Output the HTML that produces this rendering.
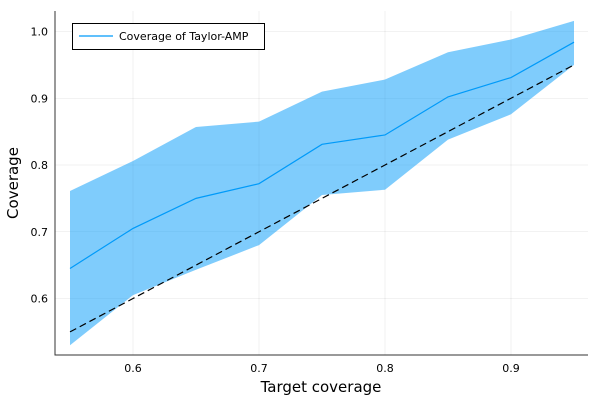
<!DOCTYPE html>
<html><head><meta charset="utf-8"><style>
body{margin:0;background:#fff;}
text{font-family:"DejaVu Sans","Liberation Sans",sans-serif;}
</style></head><body>
<svg id="chart" width="600" height="400"></svg>
<script>
const xs=[0.55,0.6,0.65,0.7,0.75,0.8,0.85,0.9,0.95];
const meanCov=[0.645,0.705,0.75,0.772,0.831,0.845,0.902,0.931,0.984];
const upperCov=[0.761,0.806,0.857,0.865,0.91,0.928,0.969,0.988,1.016];
const lowerCov=[0.53,0.605,0.643,0.68,0.755,0.763,0.838,0.876,0.95];
const xTicks=[0.6,0.7,0.8,0.9];
const yTicks=[0.6,0.7,0.8,0.9,1.0];
const NS='http://www.w3.org/2000/svg';
const svg=document.getElementById('chart');
const X=v=>133+(v-0.6)*1260;
const Y=v=>298.5-(v-0.6)*667.5;
function mk(t,a,p){const e=document.createElementNS(NS,t);for(const k in a)e.setAttribute(k,a[k]);(p||svg).appendChild(e);return e;}
xTicks.forEach(t=>{const g=mk('line',{x1:X(t),x2:X(t),y1:11,y2:355,stroke:'#000','stroke-opacity':0.1,'stroke-width':0.6});


const l=mk('text',{x:X(t),y:372,'text-anchor':'middle','font-size':11,fill:'#000'});l.textContent=t.toFixed(1);

});
yTicks.forEach(t=>{const g=mk('line',{x1:55,x2:588,y1:Y(t),y2:Y(t),stroke:'#000','stroke-opacity':0.1,'stroke-width':0.6});


const l=mk('text',{x:48,y:Y(t)+4,'text-anchor':'end','font-size':11,fill:'#000'});l.textContent=t.toFixed(1);

});
let d=xs.map((x,i)=>(i?'L':'M')+X(x)+','+Y(upperCov[i])).join('');
for(let i=xs.length-1;i>=0;i--)d+='L'+X(xs[i])+','+Y(lowerCov[i]);
const band=mk('path',{d:d+'Z',fill:'#009af9','fill-opacity':0.5,stroke:'none'});


const ml=mk('polyline',{points:xs.map((x,i)=>X(x)+','+Y(meanCov[i])).join(' '),fill:'none',stroke:'#009af9','stroke-width':1.2});


const dl=mk('polyline',{points:xs.map(x=>X(x)+','+Y(x)).join(' '),fill:'none',stroke:'#000','stroke-width':1.2,'stroke-dasharray':'7,4'});


const ax=mk('path',{d:'M55,11V355H588',fill:'none',stroke:'#333','stroke-width':1});


</script>
<svg style="position:absolute;left:0;top:0" width="600" height="400">
<g>
<rect x="72.5" y="23.5" width="192" height="26" fill="#fff" stroke="#000" stroke-width="1"/>
<line x1="79" y1="36" x2="113" y2="36" stroke="#009af9" stroke-width="1.2"/>
<text x="119" y="40" font-size="11" fill="#000">Coverage of Taylor-AMP</text>
</g>
<text x="321" y="392" text-anchor="middle" font-size="15" fill="#000">Target coverage</text>
<text transform="translate(18,183) rotate(-90)" text-anchor="middle" font-size="15" fill="#000">Coverage</text>
</svg>
</body></html>
